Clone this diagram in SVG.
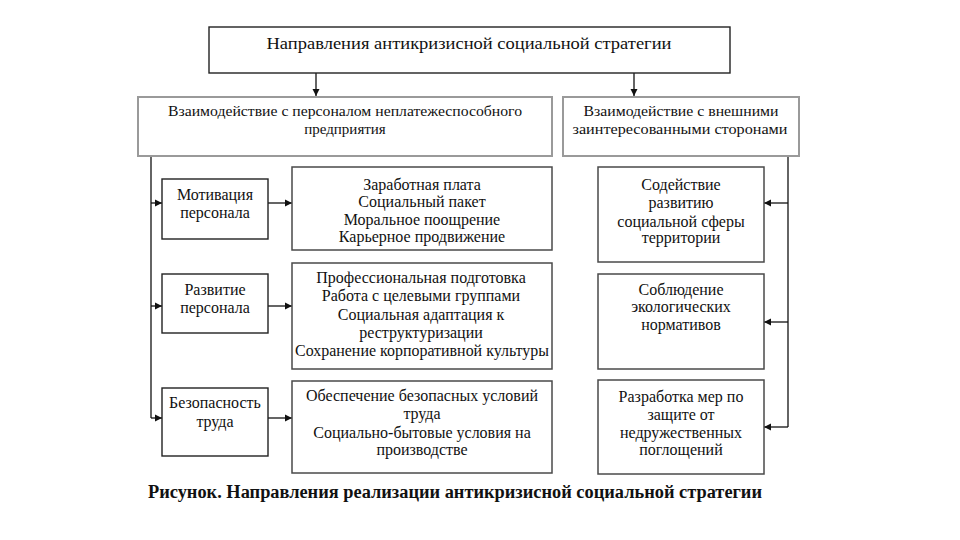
<svg xmlns="http://www.w3.org/2000/svg" width="960" height="540" viewBox="0 0 960 540">
<style>
text{font-family:"Liberation Serif","DejaVu Serif",serif;fill:#111;text-anchor:middle}
.t{font-size:16px}
.m{font-size:15px}
.cap{font-size:18px;font-weight:bold}
.bx{fill:#fff;stroke:#222;stroke-width:1.4}
.mid{fill:#fff;stroke:#9a9a9a;stroke-width:2}
.big{fill:#fff;stroke:#4a4a4a;stroke-width:1.5}
.ln{fill:none;stroke:#111;stroke-width:1.3}
</style>
<defs>
<marker id="ah" markerWidth="8" markerHeight="8" refX="7" refY="4" orient="auto" markerUnits="userSpaceOnUse">
<path d="M0,0.5 L7,4 L0,7.5 Z" fill="#111"/>
</marker>
</defs>
<rect width="960" height="540" fill="#fff"/>

<g id="connectors">
<line class="ln" x1="316" y1="73" x2="316" y2="96" marker-end="url(#ah)"/>
<line class="ln" x1="634" y1="73" x2="634" y2="96" marker-end="url(#ah)"/>
<path class="ln" d="M151,156 V418"/>
<line class="ln" x1="151" y1="203" x2="162" y2="203" marker-end="url(#ah)"/>
<line class="ln" x1="151" y1="306" x2="162" y2="306" marker-end="url(#ah)"/>
<line class="ln" x1="151" y1="418" x2="162" y2="418" marker-end="url(#ah)"/>
<line class="ln" x1="268" y1="203" x2="292" y2="203" marker-end="url(#ah)"/>
<line class="ln" x1="268" y1="306" x2="292" y2="306" marker-end="url(#ah)"/>
<line class="ln" x1="268" y1="418" x2="292" y2="418" marker-end="url(#ah)"/>
<path class="ln" d="M788,156 V427"/>
<line class="ln" x1="788" y1="203" x2="764" y2="203" marker-end="url(#ah)"/>
<line class="ln" x1="788" y1="322" x2="764" y2="322" marker-end="url(#ah)"/>
<line class="ln" x1="788" y1="427" x2="764" y2="427" marker-end="url(#ah)"/>
</g>

<g id="top">
<rect class="bx" x="209" y="27" width="521" height="46"/>
<text class="t" x="469" y="49" textLength="405" lengthAdjust="spacingAndGlyphs">Направления антикризисной социальной стратегии</text>
</g>

<g id="mid-left">
<rect class="mid" x="138" y="97" width="414" height="59"/>
<text class="m" x="345" y="116" textLength="354" lengthAdjust="spacingAndGlyphs">Взаимодействие с персоналом неплатежеспособного</text>
<text class="m" x="345" y="134">предприятия</text>
</g>

<g id="mid-right">
<rect class="mid" x="563" y="97" width="236" height="59"/>
<text class="m" x="681" y="116" textLength="195" lengthAdjust="spacingAndGlyphs">Взаимодействие с внешними</text>
<text class="m" x="680" y="134" textLength="215" lengthAdjust="spacingAndGlyphs">заинтересованными сторонами</text>
</g>

<g id="motivation">
<rect class="bx" x="162" y="179" width="106" height="60"/>
<text class="t" x="215" y="200">Мотивация</text>
<text class="t" x="215" y="218">персонала</text>
</g>

<g id="motivation-items">
<rect class="big" x="292" y="167" width="260" height="83"/>
<text class="t" x="422" y="190">Заработная плата</text>
<text class="t" x="422" y="207">Социальный пакет</text>
<text class="t" x="422" y="225">Моральное поощрение</text>
<text class="t" x="422" y="242">Карьерное продвижение</text>
</g>

<g id="development">
<rect class="bx" x="162" y="274" width="106" height="59"/>
<text class="t" x="215" y="295">Развитие</text>
<text class="t" x="215" y="313">персонала</text>
</g>

<g id="development-items">
<rect class="big" x="292" y="263" width="260" height="106"/>
<text class="t" x="421" y="283">Профессиональная подготовка</text>
<text class="t" x="421" y="301">Работа с целевыми группами</text>
<text class="t" x="421" y="320">Социальная адаптация к</text>
<text class="t" x="421" y="338">реструктуризации</text>
<text class="t" x="422" y="356" textLength="254" lengthAdjust="spacingAndGlyphs">Сохранение корпоративной культуры</text>
</g>

<g id="safety">
<rect class="bx" x="162" y="388" width="106" height="68"/>
<text class="t" x="215" y="408">Безопасность</text>
<text class="t" x="215" y="427">труда</text>
</g>

<g id="safety-items">
<rect class="big" x="292" y="381" width="260" height="92"/>
<text class="t" x="422" y="401">Обеспечение безопасных условий</text>
<text class="t" x="422" y="419">труда</text>
<text class="t" x="422" y="438">Социально-бытовые условия на</text>
<text class="t" x="422" y="455">производстве</text>
</g>

<g id="social-sphere">
<rect class="big" x="598" y="167" width="166" height="95"/>
<text class="t" x="681" y="190">Содействие</text>
<text class="t" x="681" y="208">развитию</text>
<text class="t" x="681" y="227">социальной сферы</text>
<text class="t" x="681" y="243">территории</text>
</g>

<g id="ecology">
<rect class="big" x="598" y="274" width="166" height="95"/>
<text class="t" x="681" y="295">Соблюдение</text>
<text class="t" x="681" y="312">экологических</text>
<text class="t" x="681" y="330">нормативов</text>
</g>

<g id="takeover">
<rect class="big" x="598" y="380" width="166" height="94"/>
<text class="t" x="681" y="402">Разработка мер по</text>
<text class="t" x="681" y="420">защите от</text>
<text class="t" x="681" y="438">недружественных</text>
<text class="t" x="681" y="455">поглощений</text>
</g>

<text class="cap" x="455" y="498" textLength="614" lengthAdjust="spacingAndGlyphs">Рисунок. Направления реализации антикризисной социальной стратегии</text>
</svg>
